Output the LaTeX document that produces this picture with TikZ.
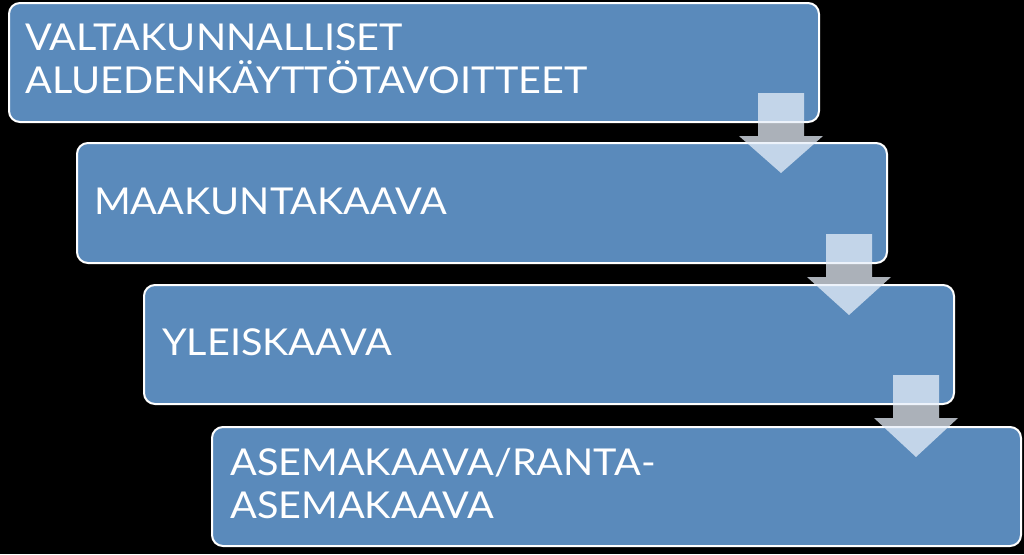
\documentclass[tikz,border=0pt]{standalone}
\usepackage{fontspec}
\setmainfont{Lato}[FakeStretch=1.07]
\definecolor{boxblue}{HTML}{5A8ABB}
\definecolor{arrowfill}{HTML}{E8F0FA}
\begin{document}
\begin{tikzpicture}[x=1pt,y=-1pt,
  stage/.style={draw=white, line width=2pt, fill=boxblue, rounded corners=11pt},
  lbl/.style={anchor=base west, text=white, inner sep=0pt, font=\fontsize{37}{43}\selectfont},
  downarrow/.style={fill=arrowfill, fill opacity=0.74, draw=none}]
\fill[black] (0,0) rectangle (1024,554);
\useasboundingbox (0,0) rectangle (1024,554);
% boxes
\draw[stage] (9,3) rectangle (819,122);
\draw[stage] (77,143) rectangle (887,263);
\draw[stage] (144,285) rectangle (954,404);
\draw[stage] (212,427) rectangle (1021,546);
% arrows
\foreach \bx/\by/\ty in {819/122/173, 887/263/315, 954/404/457} {
  \pgfmathsetmacro{\cx}{\bx-38}
  \fill[downarrow] (\cx-23,\by-29) -- (\cx+23,\by-29) -- (\cx+23,\by+14) -- (\cx+42,\by+14)
     -- (\cx,\ty) -- (\cx-42,\by+14) -- (\cx-23,\by+14) -- cycle;
}
% labels
\node[lbl] (t1) at (25,50) {VALTAKUNNALLISET};
\node[lbl] (t1b) at (25,93) {ALUEDENKÄYTTÖTAVOITTEET};
\node[lbl] (t2) at (94,214) {MAAKUNTAKAAVA};
\node[lbl] (t3) at (162,355) {YLEISKAAVA};
\node[lbl] (t4) at (230,475) {ASEMAKAAVA/RANTA-};
\node[lbl] (t4b) at (230,518) {ASEMAKAAVA};
\end{tikzpicture}
\end{document}
